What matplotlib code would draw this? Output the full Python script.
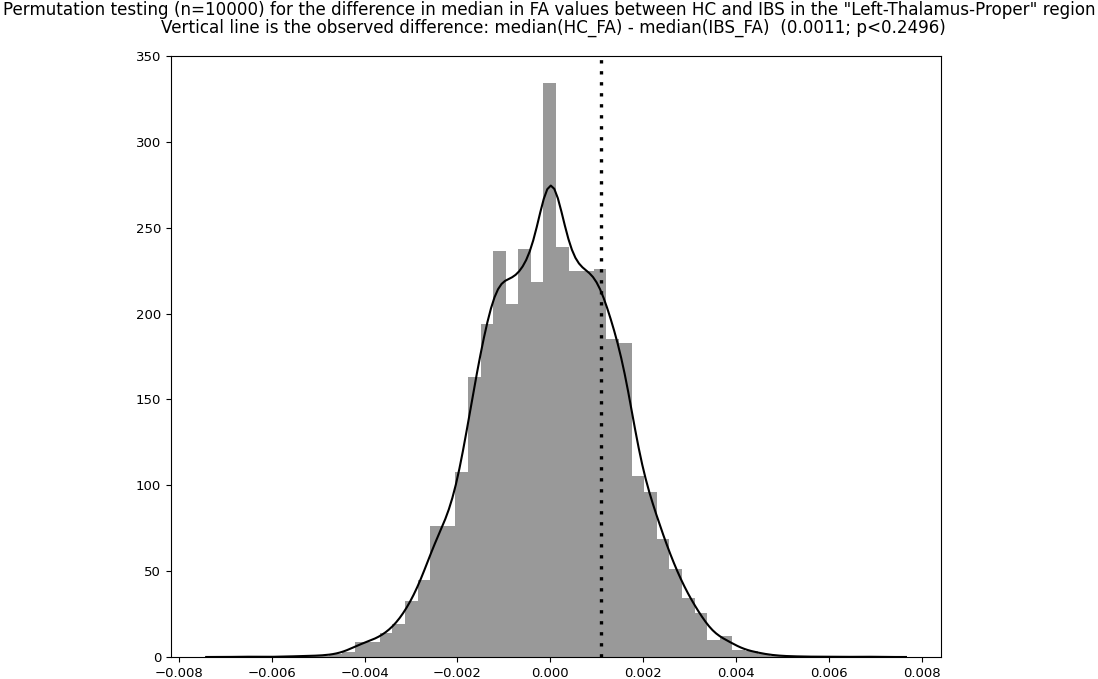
import numpy as np
import matplotlib
matplotlib.use("Agg")
import matplotlib.pyplot as plt

# Permutation null distribution of median(HC_FA) - median(IBS_FA), 50 equal bins
data_min = -0.006656
data_max = 0.006909
n_bins = 50
density = [
    0.37, 0.0, 0.0, 0.37, 0.37, 0.74, 0.74, 1.5, 3.1, 9.0,
    9.0, 13.8, 19.3, 32.7, 45.0, 76.0, 76.0, 108.0, 163.0, 193.7,
    236.5, 205.4, 237.5, 218.4, 334.0, 238.8, 224.8, 224.8, 226.2, 185.0,
    183.0, 105.6, 95.9, 68.7, 51.2, 34.2, 25.4, 10.0, 12.2, 4.0,
    3.7, 1.5, 0.74, 0.37, 0.37, 0.0, 0.37, 0.0, 0.0, 0.37,
]
observed_diff = 0.0011
p_value = 0.2496
n_perm = 10000
kde_bandwidth = 0.000252

edges = np.linspace(data_min, data_max, n_bins + 1)
centers = 0.5 * (edges[:-1] + edges[1:])
widths = np.diff(edges)
heights = np.asarray(density)

# Gaussian KDE of the permuted differences (weighted by bin mass), cut = 3 bandwidths
weights = heights * widths
weights = weights / weights.sum()
grid = np.linspace(data_min - 3 * kde_bandwidth, data_max + 3 * kde_bandwidth, 200)
z = (grid[:, None] - centers[None, :]) / kde_bandwidth
kde = (weights[None, :] * np.exp(-0.5 * z ** 2)).sum(axis=1) / (kde_bandwidth * np.sqrt(2 * np.pi))

W, H = 1098, 679
fig = plt.figure(figsize=(W / 100, H / 100), dpi=100)
ax = fig.add_axes([171 / W, (H - 657) / H, 770 / W, 601 / H])

ax.bar(edges[:-1], heights, width=widths, align="edge", color="#999999", linewidth=0)
ax.plot(grid, kde, color="black", linewidth=1.5)
ax.axvline(observed_diff, color="black", linewidth=2.4, linestyle=(0, (1, 2.3)))

ax.set_xlim(-0.00817, 0.00842)
ax.set_ylim(0, 350)
xticks = np.arange(-0.008, 0.0081, 0.002)
ax.set_xticks(xticks)
ax.set_xticklabels([f"{t:.3f}".replace("-", "\u2212") for t in xticks])
ax.set_yticks(np.arange(0, 351, 50))
ax.tick_params(labelsize=9.5)

fig.text(549 / W, 1 - 10 / H,
         f'Permutation testing (n={n_perm}) for the difference in median in FA values between HC and IBS in the "Left-Thalamus-Proper" region',
         ha="center", va="center", fontsize=12.1)
fig.text(553 / W, 1 - 28 / H,
         f"Vertical line is the observed difference: median(HC_FA) - median(IBS_FA)  ({observed_diff:.4f}; p<{p_value:.4f})",
         ha="center", va="center", fontsize=12.1)

fig.savefig("out.png", dpi=100)
